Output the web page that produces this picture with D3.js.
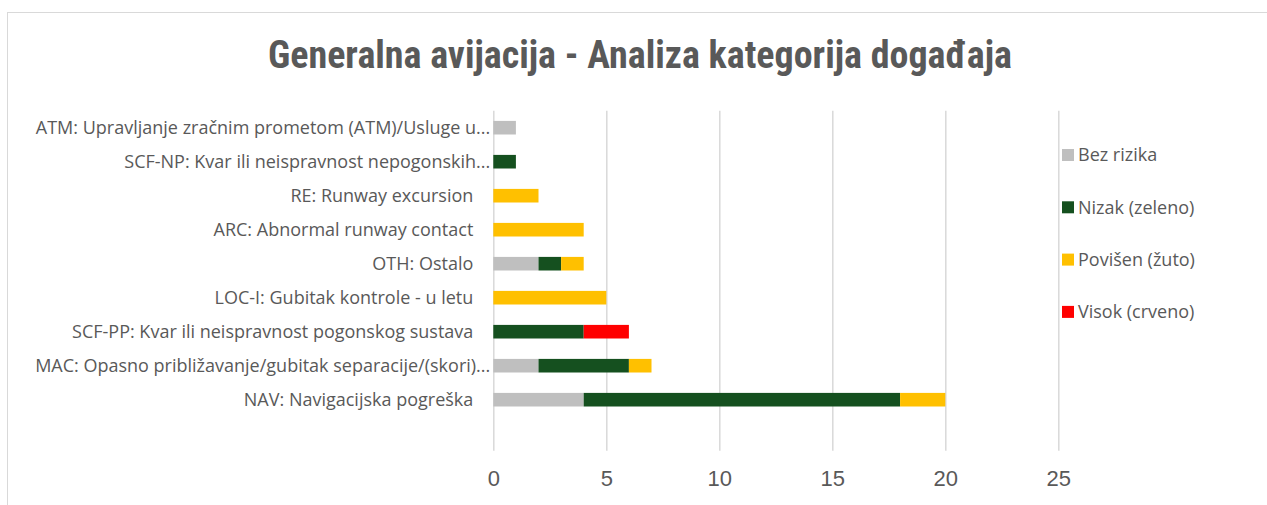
<!doctype html>
<head>
  <meta charset="utf-8">
  <script src="https://cdn.jsdelivr.net/npm/d3@7"></script>
</head>

<style type="text/css">
  body { margin: 0; background: #fff; }
  svg { display: block; }
  .title { font-family: 'Liberation Sans Narrow', 'Roboto Condensed', sans-serif; font-weight: bold; fill: #595959; font-size: 38px; }
  .cat { font-family: 'Open Sans', sans-serif; fill: #595959; font-size: 18px; }
  .tick text { font-family: 'Liberation Sans Narrow', sans-serif; fill: #595959; font-size: 22px; }
  .legend text { font-family: 'Open Sans', sans-serif; fill: #595959; font-size: 18px; }
</style>

<body>
<svg></svg>
<script>
// data
var categories = [
  "ATM: Upravljanje zračnim prometom (ATM)/Usluge u...",
  "SCF-NP: Kvar ili neispravnost nepogonskih...",
  "RE: Runway excursion",
  "ARC: Abnormal runway contact",
  "OTH: Ostalo",
  "LOC-I: Gubitak kontrole - u letu",
  "SCF-PP: Kvar ili neispravnost pogonskog sustava",
  "MAC: Opasno približavanje/gubitak separacije/(skori)...",
  "NAV: Navigacijska pogreška"
];
var seriesNames = ["Bez rizika", "Nizak (zeleno)", "Povišen (žuto)", "Visok (crveno)"];
var bezRizika = [1, 0, 0, 0, 2, 0, 0, 2, 4];
var nizak     = [0, 1, 0, 0, 1, 0, 4, 4, 14];
var povisen   = [0, 0, 2, 4, 1, 5, 0, 1, 2];
var visok     = [0, 0, 0, 0, 0, 0, 2, 0, 0];
var xTicks = [0, 5, 10, 15, 20, 25];
var colors = ["#bfbfbf", "#15501f", "#ffc000", "#ff0000"];

var W = 1267, H = 505;
var svg = d3.select("svg").attr("width", W).attr("height", H);

// chart border
svg.append("rect")
  .attr("x", 7.5).attr("y", 12.5).attr("width", W + 10).attr("height", H + 10)
  .style("fill", "none").style("stroke", "#d9d9d9").style("stroke-width", 1);

svg.append("text").classed("title", true)
  .attr("x", 640).attr("y", 68)
  .attr("text-anchor", "middle")
  .text("Generalna avijacija - Analiza kategorija događaja");

// helpers
var x0 = 493.3, x1 = 1058.3;
var yTop = 110.7, step = 34;
var gridBottom = 450.7;

var x = d3.scaleLinear().domain([0, 25]).range([x0, x1]);
var y = d3.scaleBand().domain(categories)
  .range([yTop, yTop + step * categories.length])
  .paddingInner(0.6).paddingOuter(0.3);

// table for stacking
var rows = categories.map(function(c, i) {
  return { cat: c, "Bez rizika": bezRizika[i], "Nizak (zeleno)": nizak[i],
           "Povišen (žuto)": povisen[i], "Visok (crveno)": visok[i] };
});
var stacked = d3.stack().keys(seriesNames)(rows);

// grid + tick labels
var xAxis = d3.axisBottom(x).tickValues(xTicks).tickSize(-(gridBottom - yTop)).tickPadding(20);
var gx = svg.append("g").attr("transform", "translate(0," + gridBottom + ")").call(xAxis);
gx.select(".domain").remove();
gx.selectAll(".tick line").style("stroke", "#d9d9d9").style("stroke-width", 1.5);
gx.selectAll(".tick text").attr("dy", "0.71em");

// bars
svg.append("g").selectAll("g")
  .data(stacked)
  .join("g")
  .style("fill", function(d, i) { return colors[i]; })
  .selectAll("rect")
  .data(function(d) { return d; })
  .join("rect")
  .attr("x", function(d) { return x(d[0]); })
  .attr("width", function(d) { return x(d[1]) - x(d[0]); })
  .attr("y", function(d) { return y(d.data.cat); })
  .attr("height", y.bandwidth());

// category labels
svg.append("g").selectAll("text")
  .data(categories)
  .join("text").classed("cat", true)
  .attr("x", function(d) { return /\.\.\.$/.test(d) ? x0 - 3 : x0 - 20; })
  .attr("y", function(d) { return y(d) + y.bandwidth() / 2; })
  .attr("dy", "0.35em")
  .attr("text-anchor", "end")
  .text(function(d) { return d; });

// legend
var lg = svg.append("g").classed("legend", true)
  .attr("transform", "translate(" + [1062, 155] + ")");
var items = lg.selectAll("g").data(seriesNames).join("g")
  .attr("transform", function(d, i) { return "translate(0," + (i * 52.3) + ")"; });
items.append("rect")
  .attr("x", 0).attr("y", -6).attr("width", 12).attr("height", 12)
  .style("fill", function(d, i) { return colors[i]; });
items.append("text")
  .attr("x", 16).attr("y", 0).attr("dy", "0.35em")
  .text(function(d) { return d; });
</script>
</body>
